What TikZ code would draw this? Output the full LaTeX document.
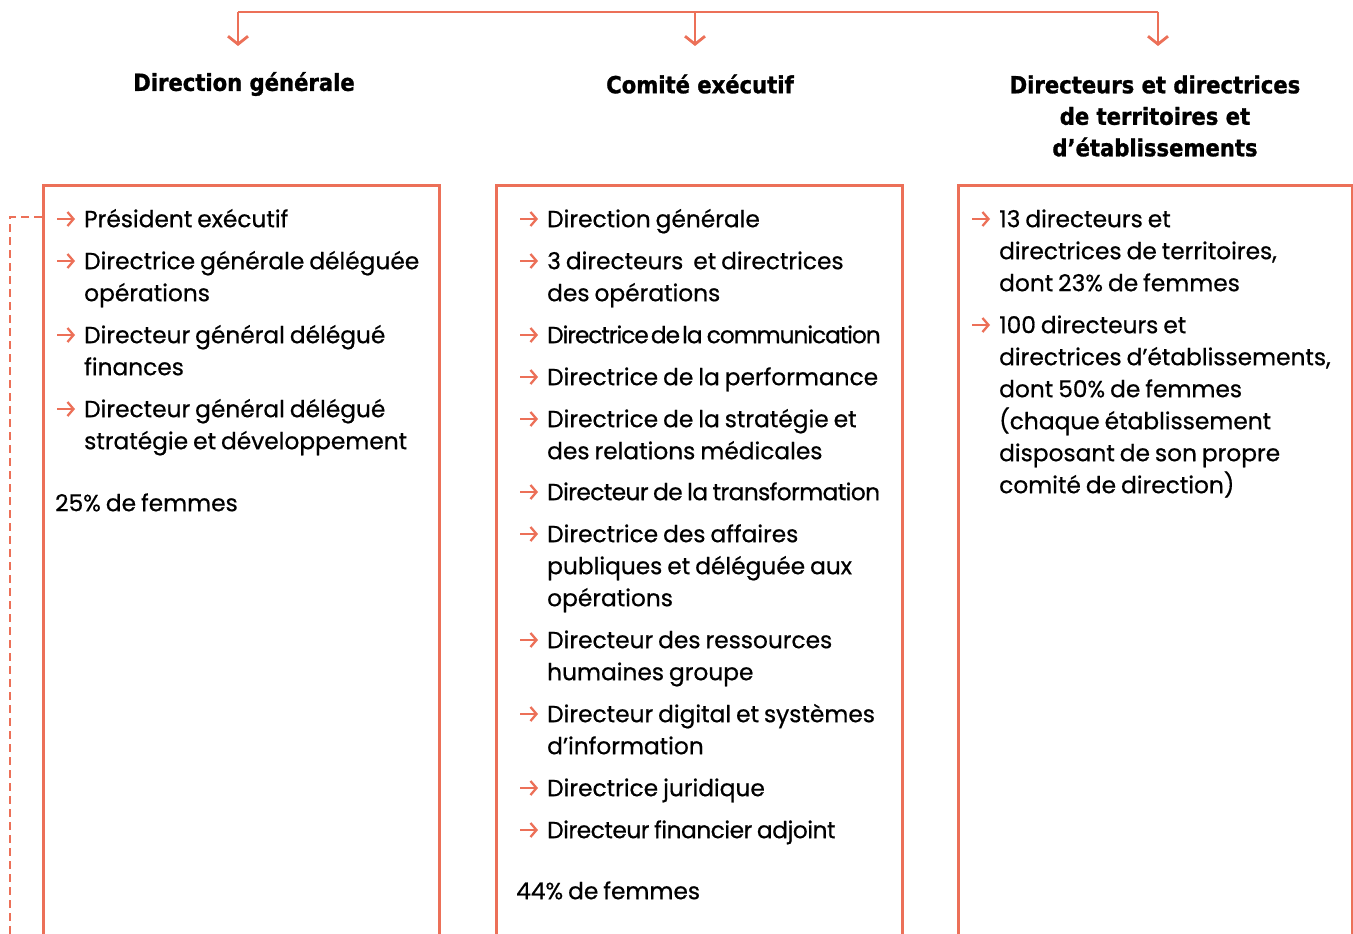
\documentclass[tikz,border=0pt]{standalone}
\usepackage{fontspec}
\setmainfont{Poppins}[WordSpace=0.8, FakeBold=0.6]
\newfontfamily\headfont{DejaVu Sans Condensed}[BoldFeatures={FakeBold=1.2}]
\usetikzlibrary{arrows.meta}
\definecolor{salmon}{RGB}{236,112,88}
\tikzset{
  line/.style={draw=salmon, line width=2.8pt},
  boxline/.style={draw=salmon, line width=2.8pt},
  dashline/.style={draw=salmon, line width=2.4pt, dash pattern=on 8pt off 5pt},
  tip/.style={-{Straight Barb[length=8pt,width=20pt,line width=2.8pt]}},
  bularrow/.style={draw=salmon, line width=2.3pt, -{Straight Barb[length=6pt,width=14pt,line width=2.3pt]}},
  head/.style={font=\headfont\bfseries\fontsize{23.5}{31.5}\selectfont, align=center, inner sep=0pt},
  item/.style={anchor=north west, inner sep=0pt, align=left, font=\fontsize{23.3}{32}\selectfont},
}
\newcommand{\itm}[4]{% name, arrowx, y-center, text
  \coordinate (#1s) at (#2+2,#3);
  \coordinate (#1e) at (#2+20,#3);
  \draw[bularrow] (#1s) -- (#1e);
  \node[item] (#1) at (#2+29,#3-14.4) {\strut #4};
}
\begin{document}
\begin{tikzpicture}[x=1pt,y=-1pt]
\clip (0,0) rectangle (1353,934);
\fill[white] (0,0) rectangle (1353,934);

% headings
\node[head] (h1) at (244,84) {Direction générale};
\node[head] (h2) at (700,84) {Comité exécutif};
\node[head] (h3) at (1155,116) {Directeurs et directrices\\de territoires et\\d’établissements};

% top connectors
\coordinate (t1) at (238,12);
\coordinate (t2) at (695,12);
\coordinate (t3) at (1158,12);
\coordinate (e1) at (238,46);
\coordinate (e2) at (695,46);
\coordinate (e3) at (1158,46);
\draw[line] (t1) -- (t3);
\draw[line,tip] (t1) -- (e1);
\draw[line,tip] (t2) -- (e2);
\draw[line,tip] (t3) -- (e3);

% boxes
\node[boxline, anchor=north west, minimum width=396pt, minimum height=800pt, inner sep=0pt] (b1) at (42,184) {};
\node[boxline, anchor=north west, minimum width=406pt, minimum height=800pt, inner sep=0pt] (b2) at (495,184) {};
\node[boxline, anchor=north west, minimum width=394pt, minimum height=800pt, inner sep=0pt] (b3) at (957,184) {};

% dashed connector
\coordinate (d1) at (10,217);
\coordinate (d2) at (10,940);
\draw[dashline] (b1.west |- d1) -- (d1) -- (d2);

% box 1
\itm{p1}{55}{219}{Président exécutif}
\itm{p2}{55}{261}{Directrice générale déléguée\\opérations}
\itm{p3}{55}{335}{Directeur général délégué\\finances}
\itm{p4}{55}{409}{Directeur général délégué\\stratégie et développement}
\node[item] (f1) at (55,503-14.4) {\strut 25\% de femmes};

% box 2
\itm{c1}{518}{219}{Direction générale}
\itm{c2}{518}{261}{3 directeurs\ \ et directrices\\des opérations}
\itm{c3}{518}{335}{\addfontfeatures{LetterSpace=-4.5}Directrice\kern-2pt\ de\kern-2pt\ la communication}
\itm{c4}{518}{377}{Directrice de la performance}
\itm{c5}{518}{419}{Directrice de la stratégie et\\des relations médicales}
\itm{c6}{518}{492}{\addfontfeatures{LetterSpace=-2.5}Directeur de la transformation}
\itm{c7}{518}{534}{Directrice des affaires\\publiques et déléguée aux\\opérations}
\itm{c8}{518}{640}{Directeur des ressources\\humaines groupe}
\itm{c9}{518}{714}{Directeur digital et systèmes\\d’information}
\itm{c10}{518}{788}{Directrice juridique}
\itm{c11}{518}{830}{\addfontfeatures{LetterSpace=-2}Directeur financier adjoint}
\node[item] (f2) at (516,891-14.4) {\strut 44\% de femmes};

% box 3
\itm{d1}{970}{219}{13 directeurs et\\directrices de territoires,\\dont 23\% de femmes}
\itm{d2}{970}{325}{100 directeurs et\\directrices d’établissements,\\dont 50\% de femmes\\(chaque établissement\\disposant de son propre\\comité de direction)}
\end{tikzpicture}
\end{document}
